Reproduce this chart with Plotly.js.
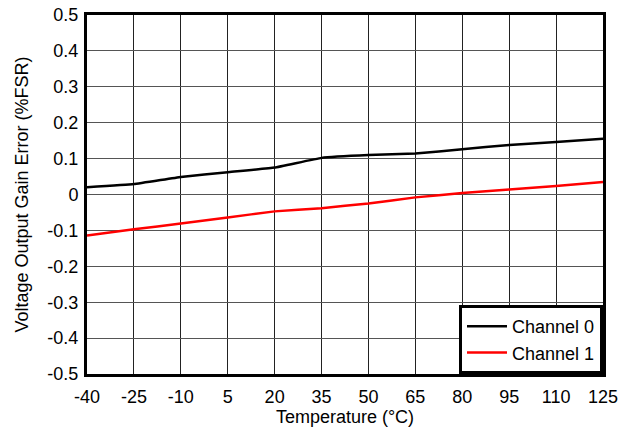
<!DOCTYPE html>
<html>
<head>
<meta charset="utf-8">
<script src="https://cdn.plot.ly/plotly-3.0.1.min.js"></script>
<style>html,body{margin:0;padding:0;background:#fff;}#chart{width:631px;height:430px;}</style>
</head>
<body>
<div id="chart"></div>
<script>
const temperature = [-40, -25, -10, 5, 20, 35, 50, 65, 80, 95, 110, 125];
const channel0 = [0.020, 0.029, 0.049, 0.062, 0.075, 0.102, 0.110, 0.114, 0.126, 0.138, 0.146, 0.155];
const channel1 = [-0.114, -0.097, -0.081, -0.064, -0.047, -0.038, -0.025, -0.008, 0.004, 0.014, 0.024, 0.035];
const xTicks = [-40, -25, -10, 5, 20, 35, 50, 65, 80, 95, 110, 125];
const yTicks = [-0.5, -0.4, -0.3, -0.2, -0.1, 0, 0.1, 0.2, 0.3, 0.4, 0.5];
const yTickText = ['-0.5', '-0.4', '-0.3', '-0.2', '-0.1', '0', '0.1', '0.2', '0.3', '0.4', '0.5'];

const font = {family: 'Liberation Sans, Arial, sans-serif', size: 18, color: '#000'};

const traces = [
  {x: temperature, y: channel0, name: 'Channel 0', mode: 'lines',
   line: {color: '#000000', width: 2.5, shape: 'spline', smoothing: 0.25}},
  {x: temperature, y: channel1, name: 'Channel 1', mode: 'lines',
   line: {color: '#ff0000', width: 2.5, shape: 'spline', smoothing: 0.25}}
];

const layout = {
  width: 631, height: 430,
  margin: {l: 87, r: 28, t: 15, b: 56},
  paper_bgcolor: '#fff', plot_bgcolor: '#fff',
  font: font,
  showlegend: true,
  legend: {x: 1, y: 0, xanchor: 'right', yanchor: 'bottom',
           bordercolor: '#000', borderwidth: 3, bgcolor: '#fff',
           font: font, itemwidth: 40, tracegroupgap: 0},
  xaxis: {
    range: [-40, 125], tickvals: xTicks, ticktext: xTicks.map(String),
    showgrid: true, gridcolor: '#222', gridwidth: 1,
    showline: true, linecolor: '#000', linewidth: 3, mirror: true,
    zeroline: false, ticks: '', ticklabelstandoff: 4,
    tickfont: font,
    title: {text: 'Temperature (°C)', font: font, standoff: 2}
  },
  yaxis: {
    range: [-0.5, 0.5], tickvals: yTicks, ticktext: yTickText,
    showgrid: true, gridcolor: '#555', gridwidth: 1,
    showline: true, linecolor: '#000', linewidth: 3, mirror: true,
    zeroline: false, ticks: '', ticklabelstandoff: 2,
    tickfont: font,
    title: {text: 'Voltage Output Gain Error (%FSR)', font: font, standoff: 15}
  }
};

Plotly.newPlot('chart', traces, layout, {displayModeBar: false, staticPlot: true});
</script>
</body>
</html>
